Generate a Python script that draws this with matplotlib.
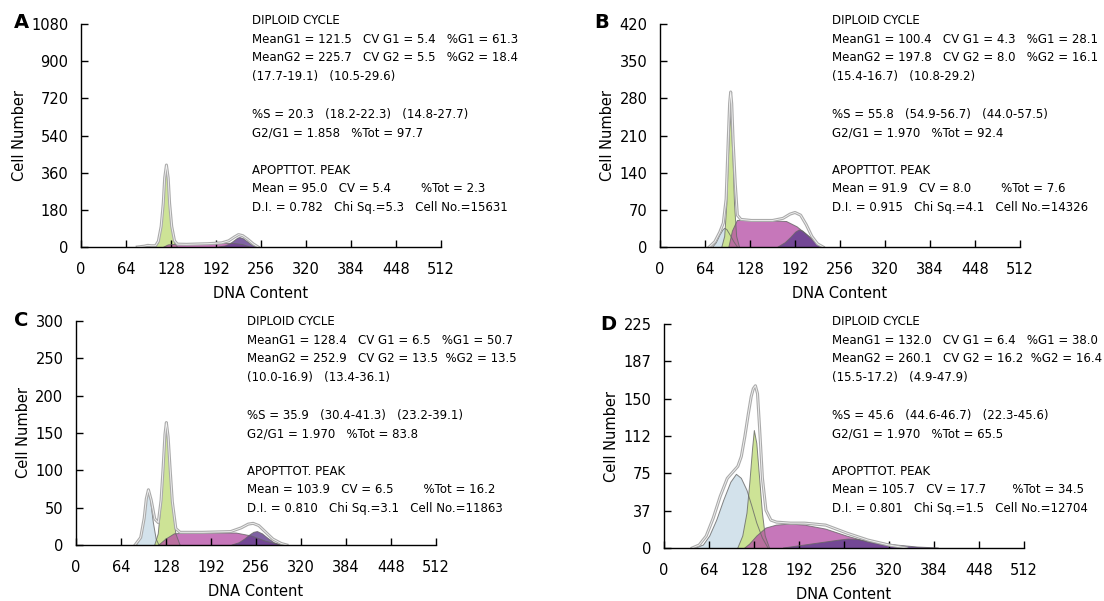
import numpy as np
import matplotlib
matplotlib.use('Agg')
import matplotlib.pyplot as plt

# panel A
a_ymax = 1080
a_yticks = [0, 180, 360, 540, 720, 900, 1080]
a_apo_x = [85, 90, 95, 100, 105]
a_apo_y = [0, 4, 7, 4, 0]
a_g1_x = [106, 110, 114, 117, 119, 121.5, 124, 126, 129, 133, 137]
a_g1_y = [0, 20, 90, 200, 320, 385, 320, 200, 90, 20, 0]
a_s_x = [118, 124, 130, 180, 215, 230, 240]
a_s_y = [0, 10, 12, 15, 18, 12, 0]
a_g2_x = [196, 205, 212, 218, 223, 226, 231, 237, 243, 250]
a_g2_y = [0, 5, 15, 30, 43, 46, 40, 25, 10, 0]
a_tot_x = [80, 90, 95, 100, 106, 110, 114, 117, 119, 121.5, 124, 126, 129, 133, 137, 150, 180, 200, 210, 218, 224, 230, 237, 245, 252]
a_tot_y = [0, 4, 8, 6, 6, 28, 100, 212, 334, 397, 334, 212, 100, 30, 14, 13, 16, 20, 30, 48, 60, 55, 38, 15, 0]
a_text = ["DIPLOID CYCLE",
          "MeanG1 = 121.5   CV G1 = 5.4   %G1 = 61.3",
          "MeanG2 = 225.7   CV G2 = 5.5   %G2 = 18.4",
          "(17.7-19.1)   (10.5-29.6)",
          "",
          "%S = 20.3   (18.2-22.3)   (14.8-27.7)",
          "G2/G1 = 1.858   %Tot = 97.7",
          "",
          "APOPTTOT. PEAK",
          "Mean = 95.0   CV = 5.4        %Tot = 2.3",
          "D.I. = 0.782   Chi Sq.=5.3   Cell No.=15631"]

# panel B
b_ymax = 420
b_yticks = [0, 70, 140, 210, 280, 350, 420]
b_apo_x = [75, 80, 85, 90, 92, 95, 100, 105, 110]
b_apo_y = [0, 8, 22, 33, 35, 33, 22, 10, 0]
b_g1_x = [88, 92, 95, 97, 99, 100.4, 102, 104, 106, 109, 113]
b_g1_y = [0, 20, 80, 160, 220, 250, 220, 160, 80, 20, 0]
b_s_x = [98, 103, 110, 130, 160, 180, 195, 210, 225, 232]
b_s_y = [0, 30, 50, 50, 49, 48, 38, 22, 6, 0]
b_g2_x = [168, 178, 186, 193, 198, 203, 210, 218, 226, 234]
b_g2_y = [0, 8, 18, 28, 32, 30, 22, 12, 4, 0]
b_tot_x = [70, 78, 85, 90, 94, 97, 99, 100.5, 102, 104, 107, 110, 115, 130, 160, 175, 185, 192, 200, 208, 216, 224, 232]
b_tot_y = [0, 10, 28, 45, 90, 200, 270, 292, 270, 200, 120, 60, 52, 50, 50, 54, 62, 65, 60, 42, 20, 6, 0]
b_text = ["DIPLOID CYCLE",
          "MeanG1 = 100.4   CV G1 = 4.3   %G1 = 28.1",
          "MeanG2 = 197.8   CV G2 = 8.0   %G2 = 16.1",
          "(15.4-16.7)   (10.8-29.2)",
          "",
          "%S = 55.8   (54.9-56.7)   (44.0-57.5)",
          "G2/G1 = 1.970   %Tot = 92.4",
          "",
          "APOPTTOT. PEAK",
          "Mean = 91.9   CV = 8.0        %Tot = 7.6",
          "D.I. = 0.915   Chi Sq.=4.1   Cell No.=14326"]

# panel C
c_ymax = 300
c_yticks = [0, 50, 100, 150, 200, 250, 300]
c_apo_x = [86, 92, 97, 100, 103, 106, 110, 114, 118]
c_apo_y = [0, 10, 35, 60, 72, 60, 30, 8, 0]
c_g1_x = [112, 117, 121, 124, 126.5, 128.4, 131, 134, 137, 142, 148]
c_g1_y = [0, 15, 55, 100, 140, 155, 135, 95, 55, 15, 0]
c_s_x = [118, 128, 140, 160, 200, 228, 250, 270, 292]
c_s_y = [0, 8, 15, 16, 16, 16, 12, 5, 0]
c_g2_x = [222, 232, 240, 248, 253, 258, 265, 273, 282, 292]
c_g2_y = [0, 3, 8, 14, 17, 18, 15, 9, 3, 0]
c_tot_x = [84, 92, 97, 100, 103, 107, 112, 117, 121, 124, 126.5, 128.5, 131, 134, 137, 142, 148, 155, 180, 220, 235, 245, 252, 260, 270, 280, 292, 300]
c_tot_y = [0, 10, 36, 62, 74, 60, 35, 30, 60, 105, 148, 164, 145, 100, 58, 22, 17, 17, 17, 18, 23, 28, 29, 26, 17, 8, 2, 0]
c_text = ["DIPLOID CYCLE",
          "MeanG1 = 128.4   CV G1 = 6.5   %G1 = 50.7",
          "MeanG2 = 252.9   CV G2 = 13.5  %G2 = 13.5",
          "(10.0-16.9)   (13.4-36.1)",
          "",
          "%S = 35.9   (30.4-41.3)   (23.2-39.1)",
          "G2/G1 = 1.970   %Tot = 83.8",
          "",
          "APOPTTOT. PEAK",
          "Mean = 103.9   CV = 6.5        %Tot = 16.2",
          "D.I. = 0.810   Chi Sq.=3.1   Cell No.=11863"]

# panel D
d_ymax = 225
d_yticks = [0, 37.5, 75, 112.5, 150, 187.5, 225]
d_yticklabels = ["0", "37", "75", "112", "150", "187", "225"]
d_apo_x = [45, 56, 65, 75, 85, 95, 103, 110, 118, 125, 132, 140, 148]
d_apo_y = [0, 3, 12, 28, 48, 66, 74, 70, 58, 42, 25, 10, 0]
d_g1_x = [105, 112, 118, 122, 126, 128.5, 132, 136, 140, 144, 150]
d_g1_y = [0, 12, 35, 65, 100, 118, 105, 70, 35, 12, 0]
d_s_x = [115, 122, 132, 145, 160, 180, 200, 230, 260, 290, 320, 345]
d_s_y = [0, 4, 12, 20, 23, 24, 23, 19, 12, 6, 2, 0]
d_g2_x = [170, 200, 230, 250, 262, 275, 300, 330, 360, 390]
d_g2_y = [0, 3, 6, 8, 9, 8.5, 6, 3, 1, 0]
d_tot_x = [40, 50, 60, 70, 80, 90, 100, 105, 110, 115, 120, 124, 127, 130, 133, 136, 140, 145, 152, 160, 180, 200, 230, 260, 290, 320, 345]
d_tot_y = [0, 3, 12, 30, 52, 70, 78, 82, 92, 112, 135, 152, 160, 163, 155, 120, 70, 38, 28, 26, 25, 25, 23, 15, 8, 3, 0]
d_text = ["DIPLOID CYCLE",
          "MeanG1 = 132.0   CV G1 = 6.4   %G1 = 38.0",
          "MeanG2 = 260.1   CV G2 = 16.2  %G2 = 16.4",
          "(15.5-17.2)   (4.9-47.9)",
          "",
          "%S = 45.6   (44.6-46.7)   (22.3-45.6)",
          "G2/G1 = 1.970   %Tot = 65.5",
          "",
          "APOPTTOT. PEAK",
          "Mean = 105.7   CV = 17.7       %Tot = 34.5",
          "D.I. = 0.801   Chi Sq.=1.5   Cell No.=12704"]

xticks = [0, 64, 128, 192, 256, 320, 384, 448, 512]

W, H = 1104, 601
fig = plt.figure(figsize=(W / 100, H / 100), dpi=100)


def panel(box, letter, letter_xy, ymax, yticks, comps, tot, text, text_xy, ylabels=None):
    left, top, right, bottom = box
    ax = fig.add_axes([left / W, 1 - bottom / H, (right - left) / W, (bottom - top) / H])
    cols = ['#cfdfe9', '#cbe290', '#b44aa3', '#5f3b8c']
    alphas = [0.9, 0.95, 0.75, 0.8]
    for (cx, cy), c, al in zip(comps, cols, alphas):
        ax.fill(cx, cy, color=c, alpha=al, lw=0)
        ax.plot(cx, cy, color='#666666', lw=0.7, alpha=0.8)
    ax.plot(tot[0], tot[1], color='#ababab', lw=2.2)
    ax.plot(tot[0], tot[1], color='#f4f4f4', lw=0.6)
    ax.set_xlim(0, 512)
    ax.set_ylim(0, ymax)
    ax.set_xticks(xticks)
    ax.set_yticks(yticks)
    if ylabels is not None:
        ax.set_yticklabels(ylabels)
    for s in ['top', 'right']:
        ax.spines[s].set_visible(False)
    for s in ['left', 'bottom']:
        ax.spines[s].set_linewidth(1.0)
    ax.tick_params(axis='both', direction='in', length=5, width=1, labelsize=10.5)
    ax.tick_params(axis='x', pad=11)
    ax.tick_params(axis='y', pad=9)
    ax.set_xlabel('DNA Content', fontsize=10.5, labelpad=6)
    ax.set_ylabel('Cell Number', fontsize=10.5, labelpad=3)
    fig.text(letter_xy[0] / W, 1 - letter_xy[1] / H, letter, fontsize=14,
             fontweight='heavy', ha='center', va='center')
    for i, line in enumerate(text):
        fig.text(text_xy[0] / W, 1 - (text_xy[1] + 18.7 * i) / H, line,
                 fontsize=8.5, ha='left', va='top')


panel((81, 24, 441, 247), 'A', (21, 23), a_ymax, a_yticks,
      [(a_apo_x, a_apo_y), (a_g1_x, a_g1_y), (a_s_x, a_s_y), (a_g2_x, a_g2_y)],
      (a_tot_x, a_tot_y), a_text, (252, 14))
panel((660, 24, 1020, 247), 'B', (602, 23), b_ymax, b_yticks,
      [(b_apo_x, b_apo_y), (b_g1_x, b_g1_y), (b_s_x, b_s_y), (b_g2_x, b_g2_y)],
      (b_tot_x, b_tot_y), b_text, (832, 14))
panel((76, 321, 436, 545), 'C', (21, 321), c_ymax, c_yticks,
      [(c_apo_x, c_apo_y), (c_g1_x, c_g1_y), (c_s_x, c_s_y), (c_g2_x, c_g2_y)],
      (c_tot_x, c_tot_y), c_text, (247, 315))
panel((664, 324, 1024, 548), 'D', (608, 324), d_ymax, d_yticks,
      [(d_apo_x, d_apo_y), (d_g1_x, d_g1_y), (d_s_x, d_s_y), (d_g2_x, d_g2_y)],
      (d_tot_x, d_tot_y), d_text, (832, 315), ylabels=d_yticklabels)

fig.savefig('out.png', dpi=100)
